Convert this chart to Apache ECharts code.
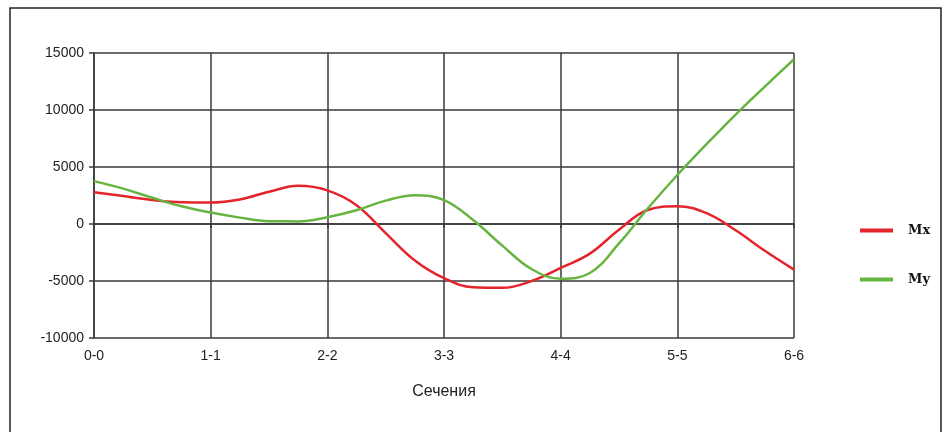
<!DOCTYPE html>
<html>
<head>
<meta charset="utf-8">
<script src="https://cdn.jsdelivr.net/npm/echarts@6/dist/echarts.min.js"></script>
<style>
html,body{margin:0;padding:0;background:#fff;}
#c{width:946px;height:432px;}
</style>
</head>
<body>
<div id="c"></div>
<script>
// Section labels on the x axis
var sections = ['0-0', '1-1', '2-2', '3-3', '4-4', '5-5', '6-6'];
// Sample positions along the x axis (in section units)
var positions = [0, 0.25, 0.5, 0.75, 1, 1.25, 1.5, 1.75, 2, 2.25, 2.5, 2.75, 3,
                 3.25, 3.5, 3.75, 4, 4.25, 4.5, 4.75, 5, 5.25, 5.5, 5.75, 6];
// Series values
var mxValues = [2780, 2450, 2100, 1900, 1880, 2150, 2830, 3350, 2950, 1650, -800, -3200, -4750,
                -5550, -5600, -5000, -3850, -2600, -500, 1250, 1560, 950, -550, -2350, -4000];
var myValues = [3760, 3100, 2300, 1550, 1000, 560, 240, 230, 600, 1200, 2050, 2520, 2100,
                350, -1900, -3950, -4800, -4300, -1700, 1400, 4300, 7000, 9600, 12050, 14450];
var yTicks = [-10000, -5000, 0, 5000, 10000, 15000];
var seriesNames = ['Mx', 'My'];
var xTitle = 'Сечения';

function pairs(vals) {
  return positions.map(function (p, i) { return [p, vals[i]]; });
}

var chart = echarts.init(document.getElementById('c'), null, {renderer: 'canvas'});
var gridColor = '#3a3a3a';
chart.setOption({
  animation: false,
  backgroundColor: '#fff',
  graphic: [{
    type: 'rect',
    shape: {x: 10, y: 8, width: 931, height: 440},
    style: {fill: 'none', stroke: '#222', lineWidth: 1.5},
    silent: true
  }],
  grid: {left: 94, right: 152, top: 53, bottom: 94},
  xAxis: {
    type: 'value',
    min: 0, max: 6, interval: 1,
    name: xTitle,
    nameLocation: 'middle',
    nameGap: 46,
    nameTextStyle: {fontFamily: 'Liberation Sans, Arial', fontSize: 16, color: '#222'},
    axisLine: {show: true, lineStyle: {color: gridColor, width: 1.5}},
    axisTick: {show: true, length: 4, lineStyle: {color: gridColor, width: 1.5}},
    axisLabel: {
      fontFamily: 'Liberation Sans, Arial', fontSize: 14, color: '#222', margin: 11,
      formatter: function (v) { return sections[Math.round(v)] || ''; }
    },
    splitLine: {show: true, lineStyle: {color: gridColor, width: 1.5}}
  },
  yAxis: {
    type: 'value',
    min: yTicks[0], max: yTicks[yTicks.length - 1], interval: 5000,
    axisLine: {show: true, onZero: false, lineStyle: {color: gridColor, width: 1.5}},
    axisTick: {show: true, length: 5, lineStyle: {color: gridColor, width: 1.5}},
    axisLabel: {
      fontFamily: 'Liberation Sans, Arial', fontSize: 14, color: '#222', margin: 10,
      formatter: function (v) { return String(v); }
    },
    splitLine: {show: true, lineStyle: {color: gridColor, width: 1.5}}
  },
  legend: {
    orient: 'vertical',
    left: 855, top: 219,
    icon: 'rect',
    itemWidth: 33, itemHeight: 4,
    itemGap: 36,
    textStyle: {fontFamily: 'DejaVu Serif', fontWeight: 'bold', fontSize: 13, color: '#111', padding: [0, 0, 0, 10]},
    data: seriesNames
  },
  series: [{
    name: seriesNames[0],
    type: 'line',
    data: pairs(mxValues),
    smooth: 0.4,
    symbol: 'none',
    lineStyle: {color: '#e3242b', width: 2.5},
    itemStyle: {color: '#e3242b'}
  }, {
    name: seriesNames[1],
    type: 'line',
    data: pairs(myValues),
    smooth: 0.4,
    symbol: 'none',
    lineStyle: {color: '#66b540', width: 2.5},
    itemStyle: {color: '#66b540'}
  }]
});
</script>
</body>
</html>
